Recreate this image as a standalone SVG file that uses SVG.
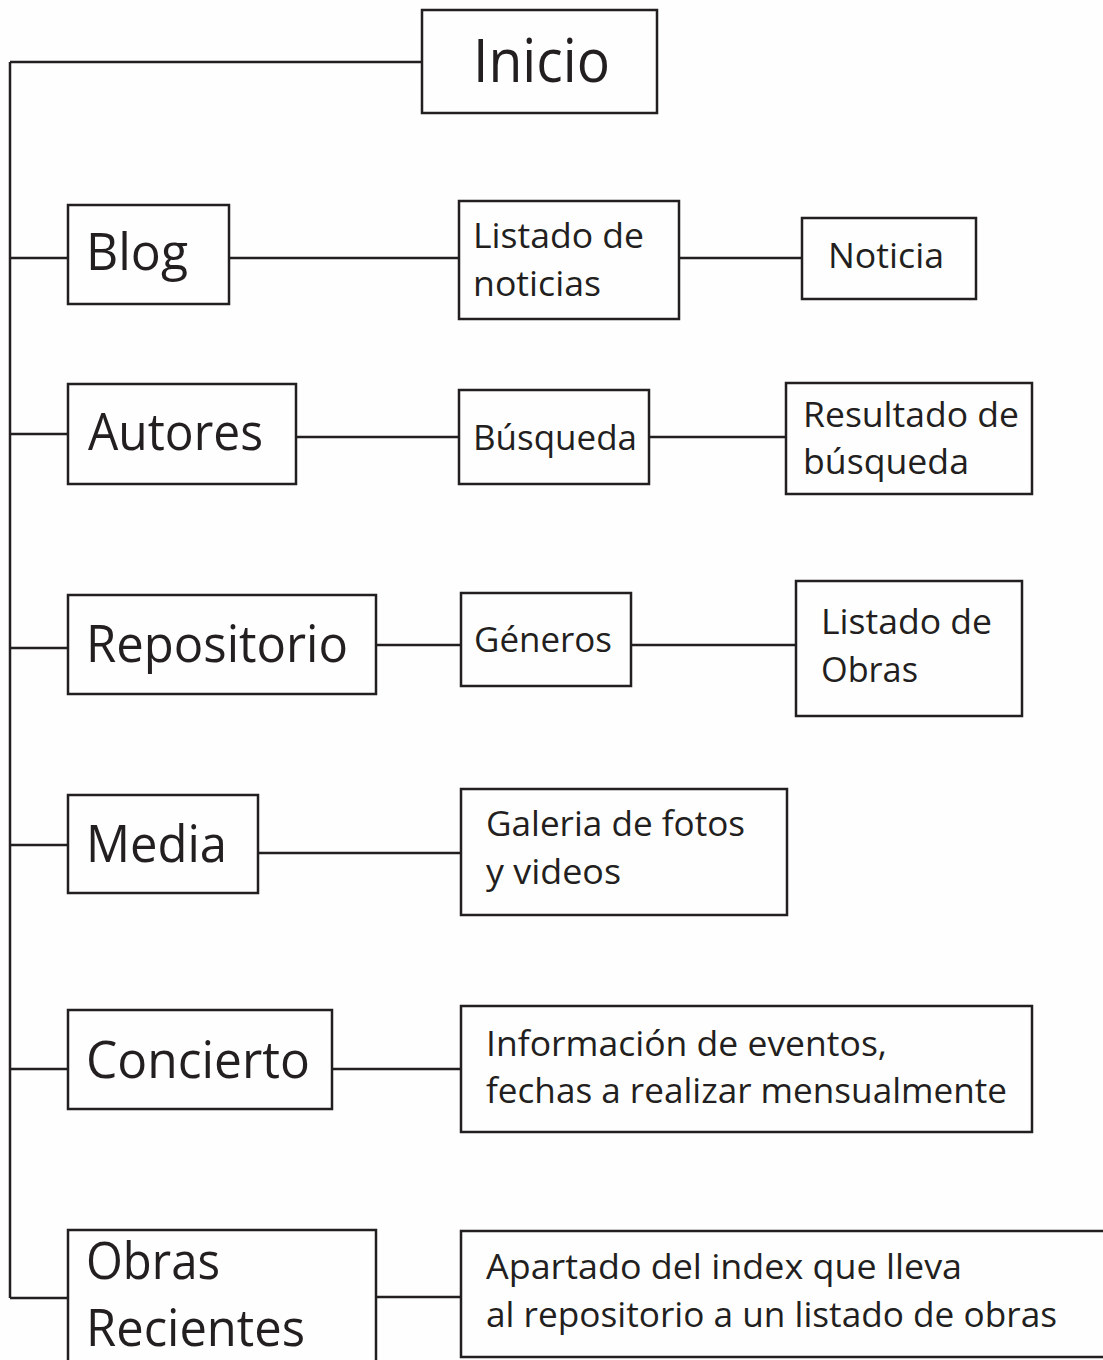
<svg xmlns="http://www.w3.org/2000/svg" width="1103" height="1360" viewBox="0 0 1103 1360">
<style>
.box{fill:none;stroke:#231f20;stroke-width:2.5}
.ln{fill:none;stroke:#231f20;stroke-width:2.5}
.big{font-family:"Open Sans","Noto Sans",sans-serif;font-size:52px;fill:#231f20}
.sm{font-family:"Open Sans","Noto Sans",sans-serif;font-size:34px;fill:#231f20}
</style>
<rect width="1103" height="1360" fill="#fefefe"/>
<g id="connectors">
<path class="ln" d="M10 62H422M10 62V1298"/>
<path class="ln" d="M10 258H68M229 258H459M679 258H802"/>
<path class="ln" d="M10 434H68M296 437H459M649 437H786"/>
<path class="ln" d="M10 648H68M376 645H461M631 645H796"/>
<path class="ln" d="M10 845H68M258 853H461"/>
<path class="ln" d="M10 1069H68M332 1069H461"/>
<path class="ln" d="M10 1298H68M376 1297H461"/>
</g>
<g id="inicio"><rect class="box" x="422" y="10" width="235" height="103"/><text class="big" x="473" y="82" style="font-size:60px" textLength="137" lengthAdjust="spacingAndGlyphs">Inicio</text></g>
<g id="blog"><rect class="box" x="68" y="205" width="161" height="99"/><text class="big" x="86" y="270" textLength="102" lengthAdjust="spacingAndGlyphs">Blog</text></g>
<g id="listado-noticias"><rect class="box" x="459" y="201" width="220" height="118"/><text class="sm" x="473" y="248" textLength="171" lengthAdjust="spacingAndGlyphs">Listado de</text><text class="sm" x="473" y="296" textLength="128" lengthAdjust="spacingAndGlyphs">noticias</text></g>
<g id="noticia"><rect class="box" x="802" y="218" width="174" height="81"/><text class="sm" x="828" y="268" textLength="116" lengthAdjust="spacingAndGlyphs">Noticia</text></g>
<g id="autores"><rect class="box" x="68" y="384" width="228" height="100"/><text class="big" x="88" y="450" textLength="175" lengthAdjust="spacingAndGlyphs">Autores</text></g>
<g id="busqueda"><rect class="box" x="459" y="390" width="190" height="94"/><text class="sm" x="473" y="450" textLength="164" lengthAdjust="spacingAndGlyphs">Búsqueda</text></g>
<g id="resultado"><rect class="box" x="786" y="383" width="246" height="111"/><text class="sm" x="803" y="427" textLength="216" lengthAdjust="spacingAndGlyphs">Resultado de</text><text class="sm" x="803" y="474" textLength="166" lengthAdjust="spacingAndGlyphs">búsqueda</text></g>
<g id="repositorio"><rect class="box" x="68" y="595" width="308" height="99"/><text class="big" x="86" y="662" textLength="262" lengthAdjust="spacingAndGlyphs">Repositorio</text></g>
<g id="generos"><rect class="box" x="461" y="593" width="170" height="93"/><text class="sm" x="474" y="652" textLength="138" lengthAdjust="spacingAndGlyphs">Géneros</text></g>
<g id="listado-obras"><rect class="box" x="796" y="581" width="226" height="135"/><text class="sm" x="821" y="634" textLength="171" lengthAdjust="spacingAndGlyphs">Listado de</text><text class="sm" x="821" y="682" textLength="97" lengthAdjust="spacingAndGlyphs">Obras</text></g>
<g id="media"><rect class="box" x="68" y="795" width="190" height="98"/><text class="big" x="86" y="862" textLength="141" lengthAdjust="spacingAndGlyphs">Media</text></g>
<g id="galeria"><rect class="box" x="461" y="789" width="326" height="126"/><text class="sm" x="486" y="836" textLength="259" lengthAdjust="spacingAndGlyphs">Galeria de fotos</text><text class="sm" x="486" y="884" textLength="135" lengthAdjust="spacingAndGlyphs">y videos</text></g>
<g id="concierto"><rect class="box" x="68" y="1010" width="264" height="99"/><text class="big" x="86" y="1078" textLength="224" lengthAdjust="spacingAndGlyphs">Concierto</text></g>
<g id="informacion"><rect class="box" x="461" y="1006" width="571" height="126"/><text class="sm" x="486" y="1056" textLength="401" lengthAdjust="spacingAndGlyphs">Información de eventos,</text><text class="sm" x="486" y="1103" textLength="521" lengthAdjust="spacingAndGlyphs">fechas a realizar mensualmente</text></g>
<g id="obras-recientes"><rect class="box" x="68" y="1230" width="308" height="140"/><text class="big" x="86" y="1279" textLength="134" lengthAdjust="spacingAndGlyphs">Obras</text><text class="big" x="86" y="1346" textLength="219" lengthAdjust="spacingAndGlyphs">Recientes</text></g>
<g id="apartado"><rect class="box" x="461" y="1231" width="660" height="126"/><text class="sm" x="486" y="1279" textLength="476" lengthAdjust="spacingAndGlyphs">Apartado del index que lleva</text><text class="sm" x="486" y="1327" textLength="571" lengthAdjust="spacingAndGlyphs">al repositorio a un listado de obras</text></g>
</svg>
